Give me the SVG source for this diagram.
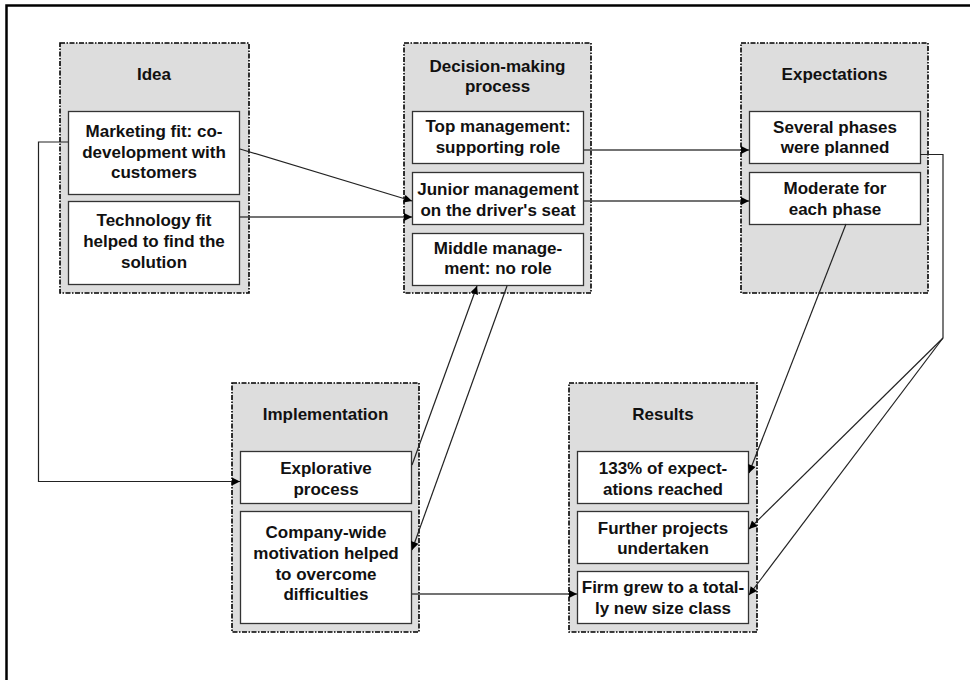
<svg xmlns="http://www.w3.org/2000/svg" width="970" height="680" viewBox="0 0 970 680">
<style>
.frame{fill:#fff;stroke:#000;stroke-width:2.5}
.cont{fill:#dddddd;stroke:#000;stroke-width:1.6;stroke-dasharray:5 1.5 1.5 1.5}
.box{fill:#fff;stroke:#333;stroke-width:1.3}
text{font-family:"Liberation Sans",Arial,sans-serif;font-weight:bold;font-size:17px;fill:#111;text-anchor:middle}
.c{fill:none;stroke:#222;stroke-width:1.2}
.g{fill:none;stroke:#444;stroke-width:1.5}
</style>
<defs>
<marker id="ah" viewBox="0 0 10 10" refX="10" refY="5" markerWidth="10" markerHeight="8" markerUnits="userSpaceOnUse" orient="auto">
<path d="M0,0 L10,5 L0,10 z" fill="#000"/>
</marker>
</defs>
<rect class="frame" x="6.5" y="5.5" width="980" height="690"/>

<g id="idea">
<rect class="cont" x="60" y="43" width="189" height="250"/>
<text x="154" y="80">Idea</text>
<rect class="box" x="68.5" y="111.5" width="171" height="83"/>
<text x="154" y="137">Marketing fit: co-</text>
<text x="154" y="158">development with</text>
<text x="154" y="178">customers</text>
<rect class="box" x="68.5" y="201.5" width="171" height="83"/>
<text x="154" y="226">Technology fit</text>
<text x="154" y="247">helped to find the</text>
<text x="154" y="268">solution</text>
</g>

<g id="decision">
<rect class="cont" x="404" y="43" width="187" height="250"/>
<text x="497.5" y="72">Decision-making</text>
<text x="497.5" y="92">process</text>
<rect class="box" x="412.5" y="111.5" width="171" height="52"/>
<text x="498" y="132">Top management:</text>
<text x="498" y="153">supporting role</text>
<rect class="box" x="412.5" y="172.5" width="171" height="52"/>
<text x="498" y="195">Junior management</text>
<text x="498" y="216">on the driver's seat</text>
<rect class="box" x="412.5" y="233.5" width="171" height="52"/>
<text x="498" y="254">Middle manage-</text>
<text x="498" y="274">ment: no role</text>
</g>

<g id="expectations">
<rect class="cont" x="741" y="43" width="187" height="250"/>
<text x="834.5" y="80">Expectations</text>
<rect class="box" x="749.5" y="111.5" width="171" height="52"/>
<text x="835" y="133">Several phases</text>
<text x="835" y="153">were planned</text>
<rect class="box" x="749.5" y="172.5" width="171" height="52"/>
<text x="835" y="194">Moderate for</text>
<text x="835" y="215">each phase</text>
</g>

<g id="implementation">
<rect class="cont" x="232" y="383" width="187" height="249"/>
<text x="325.5" y="420">Implementation</text>
<rect class="box" x="240.5" y="451.5" width="171" height="52"/>
<text x="326" y="474">Explorative</text>
<text x="326" y="495">process</text>
<rect class="box" x="240.5" y="511.5" width="171" height="112"/>
<text x="326" y="538">Company-wide</text>
<text x="326" y="559">motivation helped</text>
<text x="326" y="580">to overcome</text>
<text x="326" y="600">difficulties</text>
</g>

<g id="results">
<rect class="cont" x="569" y="383" width="188" height="249"/>
<text x="663" y="420">Results</text>
<rect class="box" x="577.5" y="451.5" width="171" height="52"/>
<text x="663" y="474">133% of expect-</text>
<text x="663" y="495">ations reached</text>
<rect class="box" x="577.5" y="511.5" width="171" height="52"/>
<text x="663" y="534">Further projects</text>
<text x="663" y="554">undertaken</text>
<rect class="box" x="577.5" y="571.5" width="171" height="52"/>
<text x="663" y="593">Firm grew to a total-</text>
<text x="663" y="614">ly new size class</text>
</g>

<g id="connectors">
<polyline class="c" points="68,142 38.5,142 38.5,481.5 240,481.5" marker-end="url(#ah)"/>
<line class="c" x1="240" y1="149" x2="412" y2="201" marker-end="url(#ah)"/>
<line class="g" x1="240" y1="217" x2="412" y2="217" marker-end="url(#ah)"/>
<line class="g" x1="584" y1="150" x2="749" y2="150" marker-end="url(#ah)"/>
<line class="g" x1="584" y1="201" x2="749" y2="201" marker-end="url(#ah)"/>
<polyline class="c" points="920,154.5 943,154.5 943,338"/>
<line class="c" x1="943" y1="338" x2="749" y2="529" marker-end="url(#ah)"/>
<line class="c" x1="943" y1="338" x2="749" y2="595" marker-end="url(#ah)"/>
<line class="c" x1="846" y1="224" x2="749" y2="473" marker-end="url(#ah)"/>
<line class="c" x1="412" y1="465" x2="477" y2="286" marker-end="url(#ah)"/>
<line class="c" x1="507" y1="286" x2="412" y2="550" marker-end="url(#ah)"/>
<line class="g" x1="412" y1="594" x2="577" y2="594" marker-end="url(#ah)"/>
</g>
</svg>
